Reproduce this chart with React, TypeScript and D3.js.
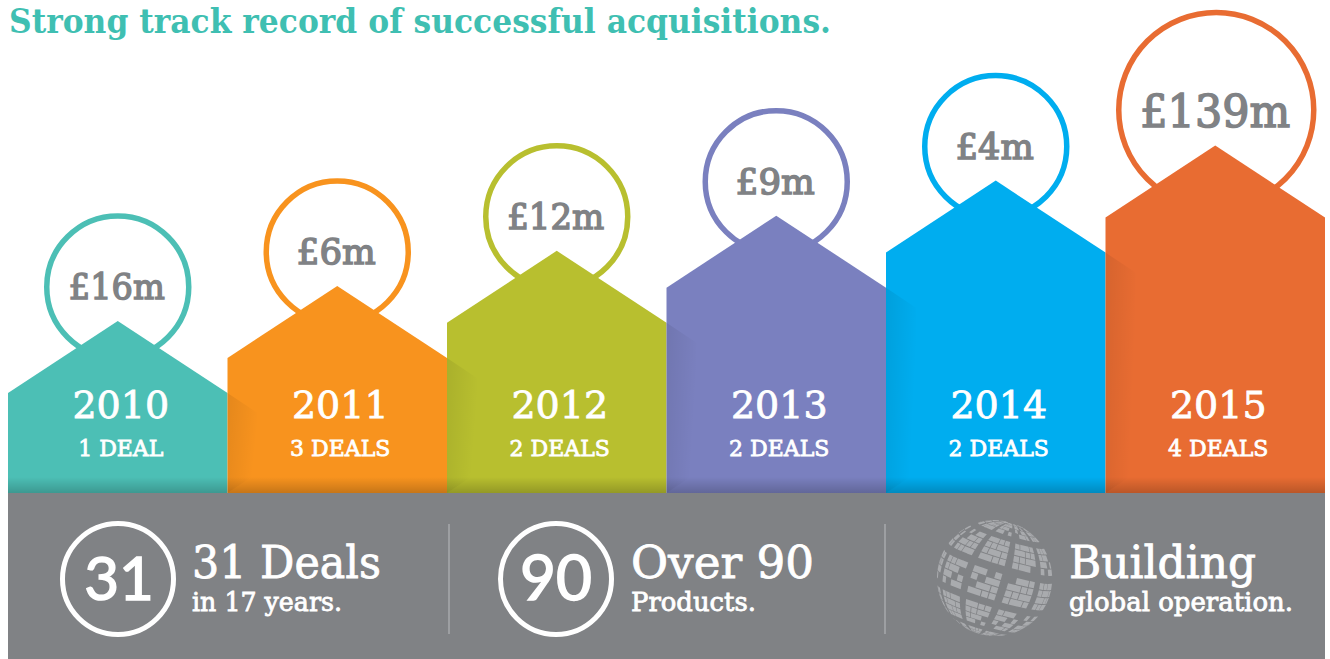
import React from "react";
import * as d3 from "d3";

const years = ["2010", "2011", "2012", "2013", "2014", "2015"];
const amounts = ["£16m", "£6m", "£12m", "£9m", "£4m", "£139m"];
const amountWidths = [96, 79, 97, 79, 78, 150];
const deals = ["1 DEAL", "3 DEALS", "2 DEALS", "2 DEALS", "2 DEALS", "4 DEALS"];
const colors = ["#4cbfb5", "#f8931e", "#b8bf2f", "#7a80bf", "#00adef", "#e86c32"];
const apexLevels = [0, 1, 2, 3, 4, 5];
const title = "Strong track record of successful acquisitions.";
const SLAB = "'DejaVu Serif', serif";

const W = 1330, H = 659;
const x = d3.scaleBand<string>().domain(years).range([8, 1325]);
const apexY = d3.scaleLinear().domain([0, 5]).range([321, 145.5]);
const BASE = 493;

// globe: lat/lon blocks, each cut into small "building" cells
const globeLons = [-100, -62, -24, 14, 52];
const globeLats = [-88, -52, -16, 20, 56];
const globeSub = [0, 1, 2, 3];

function Globe({ cx, cy, r }: { cx: number; cy: number; r: number }) {
  const projection = d3.geoOrthographic().scale(r).translate([cx, cy]).rotate([0, -6, -17]).clipAngle(90);
  const path = d3.geoPath(projection);
  const polys: string[] = [];
  globeLons.forEach((lon, a) =>
    globeLats.forEach((lat, b) => {
      const dLon = 31, dLat = 29;
      globeSub.forEach((i) =>
        globeSub.forEach((j) => {
          const seed = (a * 5 + b * 3 + i * 7 + j * 11) % 9;
          if (seed === 0) return;
          const w = lon + (i * dLon) / 4, s = lat + (j * dLat) / 4;
          const wide = seed % 3 === 1 && i < 3 ? 1 : 0;
          const e = w + (dLon / 4) * (1 + wide) - 1;
          const n = s + dLat / 4 - 1;
          const d = path({ type: "Polygon", coordinates: [[[w, s], [w, n], [e, n], [e, s], [w, s]]] } as any);
          if (d) polys.push(d);
        })
      );
    })
  );
  return <path d={polys.join("")} fill="#a9abae" />;
}

export default function App() {
  const bw = x.bandwidth();
  const thin = { stroke: "#fff", strokeWidth: 0.8 };
  return (
    <svg width={W} height={H} viewBox={`0 0 ${W} ${H}`} style={{ position: "fixed", left: 0, top: 0, background: "#fff" }}>
      <defs>
        <linearGradient id="bottomShade" x1="0" y1="0" x2="0" y2="1">
          <stop offset="0" stopColor="#000" stopOpacity="0" />
          <stop offset="1" stopColor="#000" stopOpacity="0.2" />
        </linearGradient>
        <linearGradient id="sideShade" x1="0" y1="0" x2="1" y2="0.35">
          <stop offset="0" stopColor="#000" stopOpacity="0.08" />
          <stop offset="1" stopColor="#000" stopOpacity="0" />
        </linearGradient>
      </defs>

      <text x={9} y={33} fontFamily={SLAB} fontWeight="700" fontSize={33} fill="#3fbfb2" textLength={822} lengthAdjust="spacingAndGlyphs">{title}</text>

      {years.map((yr, i) => {
        const big = i === 5;
        const left = x(yr)!;
        const mid = left + bw / 2;
        const apex = apexY(apexLevels[i]);
        const shoulder = apex + 72;
        const r = big ? 97.5 : 71;
        const cx = mid + (big ? 1 : 0);
        const cy = big ? apex - 35.5 : apex - 34;
        const house = d3.line()([[left, BASE], [left, shoulder], [mid, apex], [left + bw, shoulder], [left + bw, BASE]]) + "Z";
        return (
          <g key={yr}>
            <circle cx={cx} cy={cy} r={r} fill="#fff" stroke={colors[i]} strokeWidth={5.5} />
            <path d={house} fill={colors[i]} />
            <rect x={left} y={BASE - 16} width={bw} height={16} fill="url(#bottomShade)" />
            {i > 0 && (
              <path
                d={d3.line()([[left, apexY(apexLevels[i - 1]) + 72], [left + 30, apexY(apexLevels[i - 1]) + 92], [left + 30, BASE - 20], [left, BASE]])! + "Z"}
                fill="url(#sideShade)"
              />
            )}
            <text x={cx - 1} y={cy + (big ? 17 : 12)} textAnchor="middle" fontFamily={SLAB} fontSize={big ? 44 : 36} fill="#808285" stroke="#808285" strokeWidth={1.5} textLength={amountWidths[i]} lengthAdjust="spacingAndGlyphs">{amounts[i]}</text>
            <text x={mid + 3} y={418} textAnchor="middle" fontFamily={SLAB} fontSize={38} fill="#fff" {...thin}>{yr}</text>
            <text x={mid + 3} y={456} textAnchor="middle" fontFamily={SLAB} fontSize={22} fill="#fff" {...thin}>{deals[i]}</text>
          </g>
        );
      })}

      <rect x={8} y={BASE} width={1317} height={H - BASE} fill="#808285" />
      <line x1={449} x2={449} y1={524} y2={634} stroke="#9d9fa2" strokeWidth={2} />
      <line x1={885} x2={885} y1={524} y2={634} stroke="#9d9fa2" strokeWidth={2} />

      <circle cx={118} cy={579} r={55.5} fill="none" stroke="#fff" strokeWidth={5} />
      <text x={119} y={600} textAnchor="middle" fontFamily="Lato, sans-serif" fontSize={60} fill="#fff" stroke="#fff" strokeWidth={1.6}>31</text>
      <text x={192} y={578} fontFamily={SLAB} fontSize={45} fill="#fff" {...thin} textLength={189} lengthAdjust="spacingAndGlyphs">31 Deals</text>
      <text x={192} y={611} fontFamily={SLAB} fontSize={26} fill="#fff" {...thin} textLength={150} lengthAdjust="spacingAndGlyphs">in 17 years.</text>

      <circle cx={556} cy={579} r={55.5} fill="none" stroke="#fff" strokeWidth={5} />
      <text x={556} y={600} textAnchor="middle" fontFamily="Lato, sans-serif" fontSize={62} fill="#fff" stroke="#fff" strokeWidth={1.6}>90</text>
      <text x={631} y={578} fontFamily={SLAB} fontSize={45} fill="#fff" {...thin} textLength={183} lengthAdjust="spacingAndGlyphs">Over 90</text>
      <text x={631} y={611} fontFamily={SLAB} fontSize={26} fill="#fff" {...thin} textLength={125} lengthAdjust="spacingAndGlyphs">Products.</text>

      <Globe cx={995} cy={578} r={58} />
      <text x={1069} y={578} fontFamily={SLAB} fontSize={45} fill="#fff" {...thin} textLength={187} lengthAdjust="spacingAndGlyphs">Building</text>
      <text x={1069} y={611} fontFamily={SLAB} fontSize={26} fill="#fff" {...thin} textLength={224} lengthAdjust="spacingAndGlyphs">global operation.</text>
    </svg>
  );
}
